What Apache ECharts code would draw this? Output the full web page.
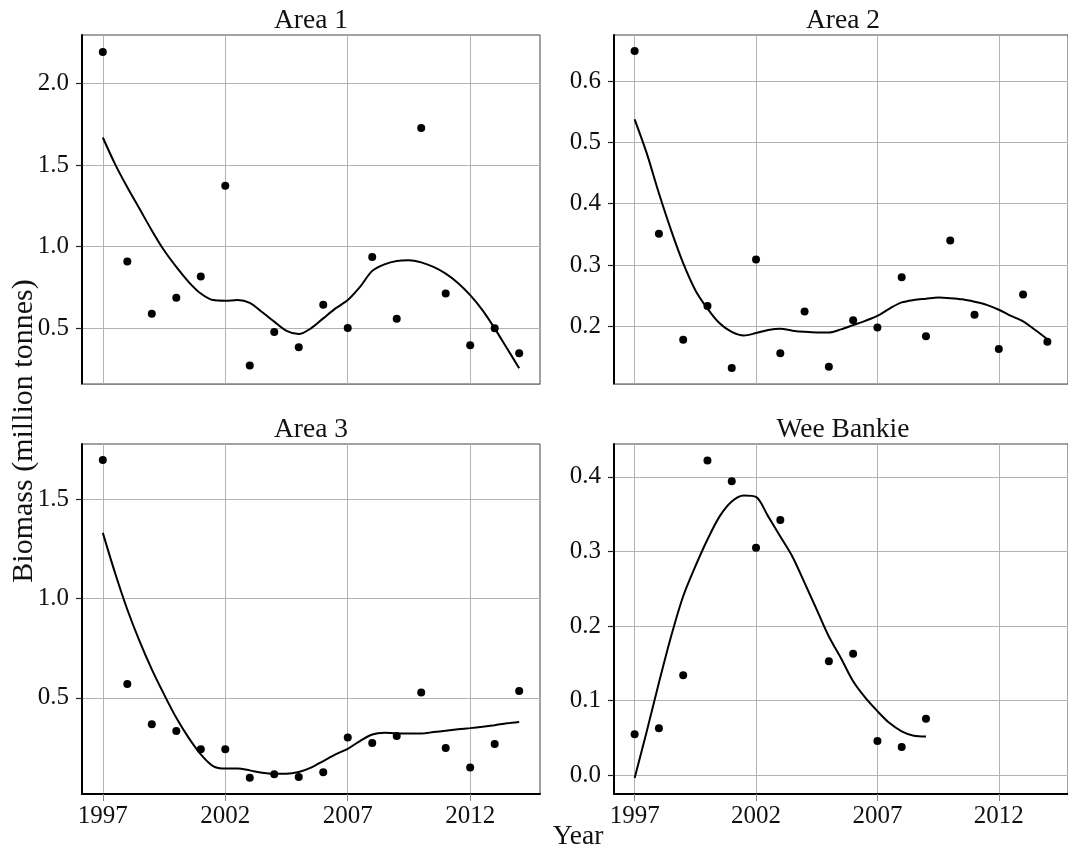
<!DOCTYPE html>
<html>
<head>
<meta charset="utf-8">
<script src="https://cdn.jsdelivr.net/npm/echarts@6/dist/echarts.min.js"></script>
<style>
  html, body { margin: 0; background: #fff; }
  #chart { width: 1068px; height: 851px; }
</style>
</head>
<body>
<div id="chart"></div>
<script>
// observed biomass per year
const years = [1997, 1998, 1999, 2000, 2001, 2002, 2003, 2004, 2005, 2006, 2007, 2008, 2009, 2010, 2011, 2012, 2013, 2014]
const area1Obs = [2.193, 0.909, 0.589, 0.687, 0.817, 1.374, 0.272, 0.478, 0.384, 0.644, 0.502, 0.937, 0.559, 1.728, 0.713, 0.396, 0.500, 0.348]
const area2Obs = [0.649, 0.351, 0.178, 0.233, 0.132, 0.309, 0.156, 0.224, 0.134, 0.210, 0.198, 0.280, 0.184, 0.340, 0.219, 0.163, 0.252, 0.175]
const area3Obs = [1.698, 0.570, 0.367, 0.332, 0.240, 0.240, 0.097, 0.114, 0.101, 0.124, 0.300, 0.272, 0.307, 0.527, 0.247, 0.148, 0.267, 0.534]
const weeYears = [1997, 1998, 1999, 2000, 2001, 2002, 2003, 2005, 2006, 2007, 2008, 2009]
const weeObs = [0.055, 0.063, 0.134, 0.422, 0.394, 0.305, 0.342, 0.153, 0.163, 0.046, 0.038, 0.076]

// smoothed fit, read at half-year steps
const fitYears = [1997, 1997.5, 1998, 1998.5, 1999, 1999.5, 2000, 2000.5, 2001, 2001.5, 2002, 2002.5,
  2003, 2003.5, 2004, 2004.5, 2005, 2005.5, 2006, 2006.5, 2007, 2007.5, 2008, 2008.5, 2009,
  2009.5, 2010, 2010.5, 2011, 2011.5, 2012, 2012.5, 2013, 2013.5, 2014]
const area1Fit = [1.669, 1.506, 1.364, 1.232, 1.10, 0.978, 0.876, 0.785, 0.713, 0.673, 0.669, 0.673,
  0.656, 0.60, 0.541, 0.484, 0.465, 0.50, 0.561, 0.622, 0.673, 0.754, 0.852, 0.892, 0.913,
  0.917, 0.904, 0.876, 0.835, 0.778, 0.703, 0.612, 0.50, 0.378, 0.256]
const area2Fit = [0.5375, 0.482, 0.417, 0.357, 0.303, 0.259, 0.229, 0.205, 0.191, 0.185, 0.189, 0.194,
  0.196, 0.193, 0.191, 0.190, 0.190, 0.195, 0.202, 0.209, 0.217, 0.229, 0.239, 0.243, 0.245,
  0.247, 0.246, 0.244, 0.240, 0.235, 0.227, 0.217, 0.208, 0.194, 0.179]
const area3Fit = [1.331, 1.129, 0.945, 0.785, 0.643, 0.517, 0.399, 0.299, 0.215, 0.156, 0.143, 0.143,
  0.134, 0.122, 0.117, 0.117, 0.126, 0.148, 0.181, 0.215, 0.243, 0.282, 0.315, 0.324, 0.320,
  0.320, 0.320, 0.327, 0.334, 0.341, 0.347, 0.354, 0.362, 0.371, 0.378]
const weeFitYears = fitYears.slice(0, 25)
const weeFit = [-0.0036, 0.059, 0.124, 0.186, 0.240, 0.280, 0.316, 0.347, 0.367, 0.375, 0.373, 0.347,
  0.320, 0.293, 0.258, 0.222, 0.186, 0.157, 0.126, 0.104, 0.086, 0.070, 0.059, 0.053, 0.052]

// tick labels
const xTicks = [1997, 2002, 2007, 2012]
const area1Ticks = [0.5, 1.0, 1.5, 2.0]
const area2Ticks = [0.2, 0.3, 0.4, 0.5, 0.6]
const area3Ticks = [0.5, 1.0, 1.5]
const weeTicks = [0.0, 0.1, 0.2, 0.3, 0.4]

const FONT = 'Liberation Serif'

const panels = [
  { title: 'Area 1', x: years, y: area1Obs, fx: fitYears, fy: area1Fit, min: 0.159, max: 2.297, ticks: area1Ticks, left: 82, top: 35, h: 349, bottom: false },
  { title: 'Area 2', x: years, y: area2Obs, fx: fitYears, fy: area2Fit, min: 0.106, max: 0.675, ticks: area2Ticks, left: 614, top: 35, h: 349, bottom: false },
  { title: 'Area 3', x: years, y: area3Obs, fx: fitYears, fy: area3Fit, min: 0.015, max: 1.779, ticks: area3Ticks, left: 82, top: 444, h: 350, bottom: true },
  { title: 'Wee Bankie', x: weeYears, y: weeObs, fx: weeFitYears, fy: weeFit, min: -0.025, max: 0.444, ticks: weeTicks, left: 614, top: 444, h: 350, bottom: true }
]

const zip = (a, b) => a.map((v, i) => [v, b[i]])

const grid = [], xAxis = [], yAxis = [], series = [], graphic = []
panels.forEach((p, i) => {
  grid.push({ left: p.left, top: p.top, width: 458, height: p.h, show: true, borderColor: '#444', borderWidth: 1, backgroundColor: 'transparent' })
  xAxis.push({
    gridIndex: i, type: 'value', min: 1996.15, max: 2014.85,
    axisLine: { show: true, onZero: false, lineStyle: { color: p.bottom ? '#000' : '#888', width: p.bottom ? 2 : 1.2 } },
    axisTick: { show: p.bottom, customValues: xTicks, length: 7, lineStyle: { color: '#888' } },
    axisLabel: { show: p.bottom, customValues: xTicks, margin: 10, fontSize: 25, fontFamily: FONT, color: '#111', formatter: v => String(v) },
    splitLine: { show: true, lineStyle: { color: '#b3b3b3', width: 1 } }
  })
  yAxis.push({
    gridIndex: i, type: 'value', min: p.min, max: p.max,
    axisLine: { show: true, onZero: false, lineStyle: { color: '#000', width: 2 } },
    axisTick: { show: true, customValues: p.ticks, length: 6, lineStyle: { color: '#222', width: 1.2 } },
    axisLabel: { customValues: p.ticks, margin: 13, fontSize: 25, fontFamily: FONT, color: '#111', formatter: v => v.toFixed(1) },
    splitLine: { show: true, lineStyle: { color: '#b3b3b3', width: 1 } }
  })
  series.push({
    type: 'scatter', xAxisIndex: i, yAxisIndex: i, data: zip(p.x, p.y),
    symbolSize: 8, itemStyle: { color: '#000', opacity: 1 }, z: 3
  })
  series.push({
    type: 'line', xAxisIndex: i, yAxisIndex: i, data: zip(p.fx, p.fy),
    showSymbol: false, smooth: 0.3, lineStyle: { color: '#000', width: 2 }, z: 2
  })
  graphic.push({
    type: 'text', x: p.left + 229, y: p.top - 14,
    style: { text: p.title, fontSize: 27.5, fontFamily: FONT, fill: '#111', textAlign: 'center', textVerticalAlign: 'middle' }
  })
})

graphic.push({
  type: 'text', x: 24, y: 431, rotation: Math.PI / 2,
  style: { text: 'Biomass (million tonnes)', fontSize: 30, fontFamily: FONT, fill: '#111', textAlign: 'center', textVerticalAlign: 'middle' }
})
graphic.push({
  type: 'text', x: 578, y: 837,
  style: { text: 'Year', fontSize: 27.5, fontFamily: FONT, fill: '#111', textAlign: 'center', textVerticalAlign: 'middle' }
})

const myChart = echarts.init(document.getElementById('chart'))
myChart.setOption({
  animation: false,
  backgroundColor: '#fff',
  grid, xAxis, yAxis, series, graphic
})
</script>
</body>
</html>
